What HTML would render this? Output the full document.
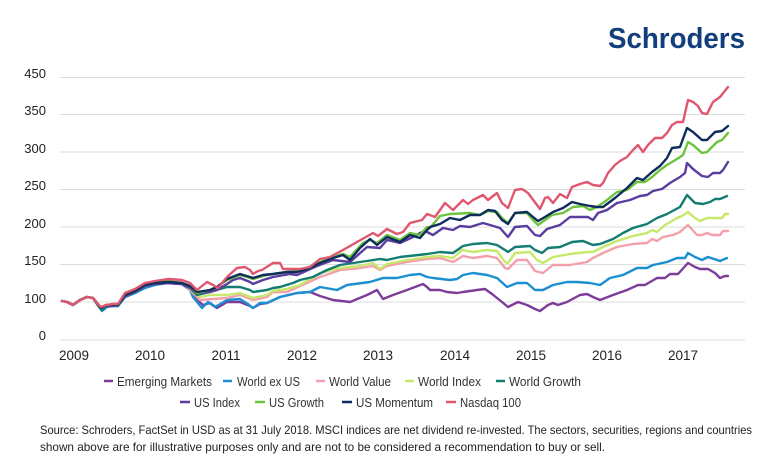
<!DOCTYPE html>
<html><head><meta charset="utf-8"><style>
html,body{margin:0;padding:0;background:#fff;}
svg{display:block;}
text{font-family:"Liberation Sans",sans-serif;}
</style></head><body>
<svg width="770" height="464" viewBox="0 0 770 464" xmlns="http://www.w3.org/2000/svg">
<rect width="770" height="464" fill="#fff"/>
<text x="608" y="48" font-size="29" font-weight="bold" fill="#133e7c" textLength="137" lengthAdjust="spacingAndGlyphs">Schroders</text>
<g stroke="#dcdcdc" stroke-width="1">
<line x1="60" y1="77.5" x2="745" y2="77.5"/>
<line x1="60" y1="114.5" x2="745" y2="114.5"/>
<line x1="60" y1="152" x2="745" y2="152"/>
<line x1="60" y1="189.5" x2="745" y2="189.5"/>
<line x1="60" y1="227" x2="745" y2="227"/>
<line x1="60" y1="264.5" x2="745" y2="264.5"/>
<line x1="60" y1="302" x2="745" y2="302"/>
<line x1="60" y1="340" x2="745" y2="340"/>
</g>
<g font-size="13" fill="#222" text-anchor="end">
<text x="46" y="78">450</text>
<text x="46" y="115">350</text>
<text x="46" y="153">300</text>
<text x="46" y="190">250</text>
<text x="46" y="228">200</text>
<text x="46" y="265">150</text>
<text x="46" y="303">100</text>
<text x="46" y="340">0</text>
</g>
<g font-size="13.5" fill="#222" text-anchor="middle">
<text x="74" y="360">2009</text>
<text x="150" y="360">2010</text>
<text x="226" y="360">2011</text>
<text x="302" y="360">2012</text>
<text x="378" y="360">2013</text>
<text x="455" y="360">2014</text>
<text x="531" y="360">2015</text>
<text x="607" y="360">2016</text>
<text x="683" y="360">2017</text>
</g>
<g fill="none" stroke-width="2.4" stroke-linejoin="round" stroke-linecap="round">
<!-- Emerging Markets -->
<polyline stroke="#7d3c98" points="62,301 67,302 73,305 80,300 87,297 93,298 97,304 101,309 106,306 113,306 118,306 125,297 135,293 145,287 155,284 168,283 182,284 190,290 195,298 203,305 210,303 217,308 227,302 240,302 250,306 253,308 260,304 267,303 280,297 297,293 310,292 320,296 333,300 350,302 367,295 377,290 383,299 393,295 407,290 423,284 427,287 430,290 440,290 447,292 457,293 463,292 477,290 485,289 492,294 502,302 508,307 518,302 527,305 535,309 540,311 548,305 553,303 558,305 567,302 580,295 587,294 593,297 600,300 613,295 627,290 638,285 645,285 657,278 665,278 670,274 678,274 688,263 695,267 700,269 708,269 715,273 720,278 725,276 728,276"/>
<!-- World ex US -->
<polyline stroke="#1b8fd2" points="62,301 67,302 73,305 80,300 87,297 93,298 97,304 102,311 107,307 113,306 118,306 125,297 135,293 145,288 155,285 168,283 182,284 190,290 193,297 202,308 208,302 215,307 227,300 240,299 248,304 253,308 260,303 267,303 280,297 297,293 310,292 320,287 337,290 347,285 370,282 383,278 397,278 410,275 420,274 427,277 433,278 450,280 457,279 463,275 473,273 487,275 497,278 507,287 517,283 527,283 535,290 543,290 553,285 567,282 577,282 590,283 600,285 610,278 623,275 637,268 647,268 653,265 667,262 677,258 685,258 688,253 695,257 702,260 708,257 720,261 727,258"/>
<!-- World Value -->
<polyline stroke="#f4a0aa" points="62,301 67,302 73,305 80,300 87,297 93,298 97,303 101,308 106,305 113,305 118,305 125,296 135,292 145,286 155,283 168,282 182,283 190,290 200,300 227,298 240,295 253,300 267,297 273,292 287,292 300,286 320,277 340,270 360,268 373,266 380,270 387,266 407,262 427,259 440,258 453,262 463,256 473,258 487,256 497,258 505,268 508,269 517,260 527,260 535,271 543,273 553,265 570,265 587,262 593,258 603,253 617,247 633,244 647,243 652,239 657,241 663,237 673,235 680,232 688,225 697,235 702,235 707,233 712,235 720,235 723,231 728,231"/>
<!-- World Index -->
<polyline stroke="#c6e86b" points="62,301 67,302 73,305 80,300 87,297 93,298 97,303 101,308 106,305 113,305 118,305 125,295 135,291 145,285 155,283 168,282 182,283 190,289 200,297 210,295 227,295 240,293 250,297 253,298 267,295 273,291 287,289 300,285 320,273 340,268 360,266 373,263 380,269 387,264 407,260 427,257 440,256 453,258 462,250 473,252 487,250 497,251 505,262 508,263 515,253 530,252 537,260 543,263 553,257 570,254 587,252 593,252 603,247 617,241 633,236 647,233 652,230 657,232 665,225 677,218 682,216 688,212 695,218 700,221 707,218 722,218 725,214 728,214"/>
<!-- World Growth -->
<polyline stroke="#137d6f" points="62,301 67,302 73,305 80,300 87,297 93,298 97,304 102,310 106,306 113,305 118,305 125,296 135,292 145,286 155,283 168,282 182,284 190,288 197,295 210,292 227,287 240,287 250,290 253,292 267,290 273,288 280,287 293,283 300,280 313,277 327,270 340,265 360,262 380,259 387,260 400,257 427,254 440,252 453,253 463,246 473,244 487,243 497,245 505,250 508,252 515,247 530,246 535,250 542,253 548,248 560,247 572,242 583,241 593,245 600,244 613,239 623,233 633,228 647,224 657,218 667,214 680,207 687,195 695,203 703,204 710,202 715,199 720,199 727,196"/>
<!-- US Index -->
<polyline stroke="#5a3d9e" points="62,301 67,302 73,305 80,300 87,297 93,298 97,303 101,308 106,306 113,306 118,305 125,296 135,292 145,286 155,284 168,283 182,284 190,288 197,293 210,292 217,290 227,284 233,280 240,278 250,282 253,284 263,280 273,277 290,274 297,275 317,266 333,260 350,262 367,247 380,248 387,240 400,243 413,237 420,233 425,231 433,235 443,228 453,230 460,226 470,227 483,223 490,225 500,228 508,237 515,227 527,226 535,235 540,236 547,229 560,225 570,217 580,217 588,217 593,220 598,213 607,210 617,203 630,200 640,196 647,195 653,191 662,189 670,183 680,177 685,173 687,163 693,169 702,176 708,177 713,173 720,173 723,170 728,162"/>
<!-- US Growth -->
<polyline stroke="#6bc43c" points="62,301 67,302 73,305 80,300 87,297 93,298 97,303 101,308 106,305 113,305 118,305 125,295 135,291 145,285 155,283 168,281 182,283 190,286 197,293 210,290 217,287 227,280 240,275 250,278 253,279 263,276 273,274 287,272 297,271 307,268 320,262 333,257 343,254 350,257 363,243 370,240 377,243 387,235 400,240 410,233 420,235 427,227 430,228 440,216 450,214 470,213 480,215 488,211 497,212 502,218 508,223 515,213 527,213 533,220 538,225 545,220 552,215 563,213 573,207 583,206 590,210 597,207 607,200 617,192 627,190 637,182 645,182 652,177 660,170 667,165 677,159 683,155 688,142 693,145 702,153 707,152 717,142 722,140 728,133"/>
<!-- US Momentum -->
<polyline stroke="#0f2d5c" points="62,301 67,302 73,305 80,300 87,297 93,298 97,303 101,308 106,305 113,305 118,305 125,295 135,291 145,285 155,283 168,282 182,283 190,286 197,292 210,290 217,287 227,279 240,274 250,277 253,278 263,275 273,274 287,272 297,272 307,269 320,263 333,258 343,255 350,260 360,248 370,239 377,245 387,237 400,242 410,235 420,238 427,230 430,227 440,224 450,218 460,220 470,215 480,215 488,210 495,211 502,220 508,224 515,213 527,212 533,217 538,221 545,217 553,212 563,208 572,202 580,204 590,206 597,207 603,207 615,198 627,188 637,178 643,180 652,172 660,166 667,158 672,148 680,147 687,128 693,132 702,140 707,140 715,132 722,131 728,126"/>
<!-- Nasdaq 100 -->
<polyline stroke="#e0566f" points="62,301 67,302 73,305 80,300 87,297 93,298 97,303 101,307 106,305 113,304 118,304 125,293 135,289 145,283 155,281 168,279 182,280 190,283 197,290 207,282 213,285 218,288 227,277 237,268 245,267 250,270 253,274 258,271 262,270 273,263 280,263 283,269 300,269 310,267 320,259 330,257 343,250 357,242 373,233 378,236 387,229 397,234 403,232 410,223 422,220 427,214 435,217 445,203 453,210 463,200 468,204 473,200 483,195 488,200 497,193 502,203 508,208 515,190 522,189 528,193 537,205 540,209 545,198 548,197 553,203 560,194 567,198 572,187 580,184 587,182 593,185 600,186 603,183 608,173 615,165 620,161 627,157 633,150 638,145 643,152 648,145 655,138 662,138 667,133 672,125 677,122 683,122 688,100 693,102 698,106 702,113 707,114 713,102 720,97 728,87"/>
</g>
<g stroke-width="2.5">
<line x1="104" y1="381" x2="113" y2="381" stroke="#7d3c98"/>
<line x1="223" y1="381" x2="232" y2="381" stroke="#1b8fd2"/>
<line x1="316" y1="381" x2="325" y2="381" stroke="#f4a0aa"/>
<line x1="405" y1="381" x2="414" y2="381" stroke="#c6e86b"/>
<line x1="496" y1="381" x2="505" y2="381" stroke="#137d6f"/>
<line x1="180" y1="402" x2="190" y2="402" stroke="#5a3d9e"/>
<line x1="255" y1="402" x2="265" y2="402" stroke="#6bc43c"/>
<line x1="342" y1="402" x2="352" y2="402" stroke="#0f2d5c"/>
<line x1="446" y1="402" x2="456" y2="402" stroke="#e0566f"/>
</g>
<g font-size="13" fill="#333">
<text x="117" y="386" textLength="95" lengthAdjust="spacingAndGlyphs">Emerging Markets</text>
<text x="237" y="386" textLength="63" lengthAdjust="spacingAndGlyphs">World ex US</text>
<text x="329" y="386" textLength="62" lengthAdjust="spacingAndGlyphs">World Value</text>
<text x="418" y="386" textLength="63" lengthAdjust="spacingAndGlyphs">World Index</text>
<text x="509" y="386" textLength="72" lengthAdjust="spacingAndGlyphs">World Growth</text>
<text x="194" y="407" textLength="46" lengthAdjust="spacingAndGlyphs">US Index</text>
<text x="269" y="407" textLength="55" lengthAdjust="spacingAndGlyphs">US Growth</text>
<text x="356" y="407" textLength="77" lengthAdjust="spacingAndGlyphs">US Momentum</text>
<text x="460" y="407" textLength="61" lengthAdjust="spacingAndGlyphs">Nasdaq 100</text>
</g>
<g font-size="12" fill="#222">
<text x="40" y="434" textLength="712" lengthAdjust="spacingAndGlyphs">Source: Schroders, FactSet in USD as at 31 July 2018. MSCI indices are net dividend re-invested. The sectors, securities, regions and countries</text>
<text x="40" y="451" textLength="565" lengthAdjust="spacingAndGlyphs">shown above are for illustrative purposes only and are not to be considered a recommendation to buy or sell.</text>
</g>
</svg>
</body></html>
